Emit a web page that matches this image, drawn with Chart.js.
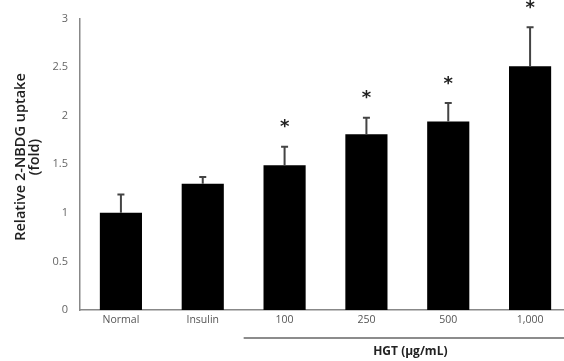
<!DOCTYPE html>
<html>
<head>
<meta charset="utf-8">
<script src="https://cdn.jsdelivr.net/npm/chart.js@4"></script>
<style>
  html, body { margin: 0; padding: 0; background: #fff; overflow: hidden; }
  #wrap { width: 571px; height: 361px; }
</style>
</head>
<body>
<div id="wrap"><canvas id="grafica"></canvas></div>
<script>
// datos
const categorias = ["Normal", "Insulin", "100", "250", "500", "1,000"];
const valores = [1.0, 1.30, 1.49, 1.81, 1.94, 2.51];
const errores = [0.19, 0.07, 0.19, 0.17, 0.19, 0.40];
const significativo = [false, false, true, true, true, true];
const yTicks = [0, 0.5, 1, 1.5, 2, 2.5, 3];
const tituloY = ["Relative 2-NBDG uptake", "(fold)"];
const tituloGrupo = "HGT (\u00b5g/mL)";

// barras de error (solo hacia arriba), asteriscos, titulo y grupo HGT
const extras = {
  id: "extras",
  afterDatasetsDraw(chart) {
    const { ctx, scales: { x, y } } = chart;
    const meta = chart.getDatasetMeta(0);
    ctx.save();
    meta.data.forEach((bar, i) => {
      const cx = bar.x;
      const yTop = y.getPixelForValue(valores[i] + errores[i]);
      const yVal = y.getPixelForValue(valores[i]);
      ctx.strokeStyle = "#444";
      ctx.lineWidth = 2;
      ctx.beginPath();
      ctx.moveTo(cx, yVal);
      ctx.lineTo(cx, yTop);
      ctx.moveTo(cx - 3.5, yTop);
      ctx.lineTo(cx + 3.5, yTop);
      ctx.stroke();
      if (significativo[i]) {
        ctx.fillStyle = "#222";
        ctx.font = "bold 18px 'DejaVu Sans'";
        ctx.textAlign = "center";
        ctx.textBaseline = "middle";
        ctx.fillText("*", cx, yTop - 19);
      }
    });

    // titulo del eje y
    ctx.save();
    ctx.translate(0, 157);
    ctx.rotate(-Math.PI / 2);
    ctx.fillStyle = "#222";
    ctx.font = "600 14.5px 'Open Sans'";
    ctx.textAlign = "center";
    ctx.textBaseline = "middle";
    ctx.fillText(tituloY[0], 0, 21);
    ctx.fillText(tituloY[1], 0, 35);
    ctx.restore();

    // linea y etiqueta HGT
    const paso = x.getPixelForValue(1) - x.getPixelForValue(0);
    const left = x.getPixelForValue(2) - paso / 2;
    const right = x.right;
    ctx.strokeStyle = "#666";
    ctx.lineWidth = 1.5;
    ctx.beginPath();
    ctx.moveTo(left, 338);
    ctx.lineTo(right, 338);
    ctx.stroke();
    ctx.fillStyle = "#222";
    ctx.font = "bold 12px 'Open Sans'";
    ctx.textAlign = "center";
    ctx.textBaseline = "middle";
    ctx.fillText(tituloGrupo, (left + right) / 2 + 3, 352);
    ctx.restore();
  }
};

const ctx = document.getElementById("grafica").getContext("2d");
new Chart(ctx, {
  type: "bar",
  data: {
    labels: categorias,
    datasets: [{
      data: valores,
      backgroundColor: "#000",
      borderWidth: 0,
      categoryPercentage: 1,
      barPercentage: 0.515
    }]
  },
  options: {
    responsive: true,
    maintainAspectRatio: false,
    animation: false,
    layout: { padding: { top: 18, left: 0, right: 0, bottom: 0 } },
    plugins: {
      legend: { display: false },
      tooltip: { enabled: false }
    },
    scales: {
      x: {
        grid: { display: false, drawTicks: false },
        border: { color: "#888", width: 1.5 },
        ticks: {
          color: "#555",
          font: { family: "Open Sans", size: 10.5 },
          padding: 4,
          maxRotation: 0
        },
        afterFit: scale => { scale.height = 51; }
      },
      y: {
        min: 0,
        max: 3,
        afterBuildTicks: scale => { scale.ticks = yTicks.map(v => ({ value: v })); },
        grid: { display: false, drawTicks: false },
        border: { color: "#888", width: 1.5 },
        ticks: {
          color: "#666",
          font: { family: "Open Sans", size: 11 },
          padding: 12,
          callback: value => String(value)
        },
        afterFit: scale => { scale.width = 80; }
      }
    }
  },
  plugins: [extras]
});
</script>
</body>
</html>
